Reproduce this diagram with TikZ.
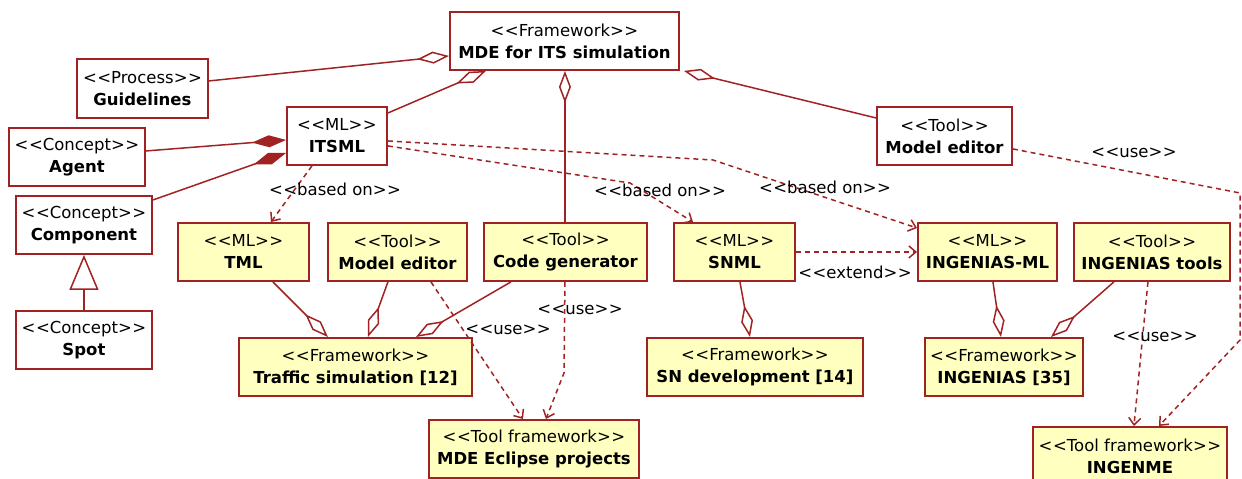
\documentclass[tikz,border=0pt]{standalone}
\usepackage{fontspec}
\setmainfont{DejaVu Sans}
\usetikzlibrary{arrows.meta}
\definecolor{umlred}{RGB}{160,34,34}
\definecolor{umlyellow}{RGB}{255,255,192}
\newcommand\stl{<\kern0.5pt<}
\newcommand\stg{>\kern0.5pt>}
\newcommand\ster[2]{\stl#1\stg\\\textbf{#2}}
\begin{document}
\begin{tikzpicture}[x=1pt,y=-1pt,
  box/.style={draw=umlred, line width=1.9pt, fill=white, inner sep=0pt, align=center,
    font=\fontsize{16.5}{22}\selectfont, minimum height=58pt, anchor=north west},
  ybox/.style={box, fill=umlyellow},
  lbl/.style={font=\fontsize{16.5}{20}\selectfont, inner sep=1pt},
  assoc/.style={draw=umlred, line width=1.5pt},
  dep/.style={draw=umlred, line width=1.5pt, dash pattern=on 5pt off 4pt,
    -{Straight Barb[length=7pt,width=12pt]}},
  agg/.style={assoc, -{Diamond[open,length=32pt,width=12pt]}},
  compo/.style={assoc, -{Diamond[length=34pt,width=12pt,fill=umlred]}},
  gen/.style={assoc, -{Triangle[open,length=35pt,width=29pt]}},
]
\useasboundingbox (0,0) rectangle (1242,479);

% nodes
\node[box, minimum width=229pt] (mde) at (449,11) {\ster{Framework}{MDE for ITS simulation}};
\node[box, minimum width=131pt, minimum height=59pt] (guid) at (76,58) {\ster{Process}{Guidelines}};
\node[box, minimum width=100pt] (itsml) at (286,106) {\ster{ML}{ITSML}};
\node[box, minimum width=136pt] (agent) at (8,127) {\ster{Concept}{Agent}};
\node[box, minimum width=136pt] (comp) at (15,195) {\ster{Concept}{Component}};
\node[box, minimum width=136pt] (spot) at (15,310) {\ster{Concept}{Spot}};
\node[box, minimum width=135pt] (med1) at (876,106) {\ster{Tool}{Model editor}};

\node[ybox, minimum width=131pt] (tml) at (177,222) {\ster{ML}{TML}};
\node[ybox, minimum width=139pt] (med2) at (327,222) {\ster{Tool}{Model editor}};
\node[ybox, minimum width=163pt] (cgen) at (483,222) {\ster{Tool}{Code generator}};
\node[ybox, minimum width=121pt] (snml) at (673,222) {\ster{ML}{SNML}};
\node[ybox, minimum width=139pt] (iml) at (917,222) {\ster{ML}{INGENIAS-ML}};
\node[ybox, minimum width=156pt] (itools) at (1073,222) {\ster{Tool}{INGENIAS tools}};

\node[ybox, minimum width=233pt] (traffic) at (238,337) {\ster{Framework}{Traffic simulation [12]}};
\node[ybox, minimum width=216pt] (sndev) at (646,337) {\ster{Framework}{SN development [14]}};
\node[ybox, minimum width=158pt] (ing) at (924,337) {\ster{Framework}{INGENIAS [35]}};
\node[ybox, minimum width=210pt] (eclipse) at (428,419) {\ster{Tool framework}{MDE Eclipse projects}};
\node[ybox, minimum width=194pt] (ingenme) at (1032,426) {\ster{Tool framework}{INGENME}};

% aggregations to MDE
\draw[agg] ([yshift=7.5pt]guid.east) -- ([yshift=-15pt]mde.west);
\draw[agg] ([yshift=-7pt]itsml.north east) -- ([xshift=-78.5pt]mde.south);
\draw[agg] ([xshift=-0.5pt]cgen.north) -- ([xshift=-0.5pt]cgen.north |- mde.south);
\draw[agg] ([yshift=18pt]med1.west) -- ([xshift=4pt]mde.south east);

% compositions to ITSML
\draw[compo] ([yshift=6pt]agent.east) -- ([yshift=-4pt]itsml.west);
\draw[compo] ([yshift=-5pt]comp.north east) -- ([yshift=-17pt]itsml.west);

% generalization
\draw[gen] (spot.north) -- (comp.south);

% aggregations to frameworks
\draw[agg] ([xshift=29.5pt]tml.south) -- ([xshift=-27.5pt]traffic.north);
\draw[agg] ([xshift=-9.5pt]med2.south) -- ([xshift=12.5pt]traffic.north);
\draw[agg] ([xshift=-54.5pt]cgen.south) -- ([xshift=60.5pt]traffic.north);
\draw[agg] ([xshift=5.5pt]snml.south) -- ([xshift=-5pt]sndev.north);
\draw[agg] ([xshift=5.5pt]iml.south) -- ([xshift=-3pt]ing.north);
\draw[agg] ([xshift=-38pt]itools.south) -- ([xshift=47pt]ing.north);

% dependencies
\draw[dep] ([xshift=-25pt]itsml.south) -- ([xshift=27.5pt]tml.north);
\draw[dep] ([yshift=-10pt]itsml.east) -- (630,183) -- ([xshift=20pt]snml.north west);
\draw[dep] ([yshift=-5pt]itsml.east) -- (713,160) -- ([yshift=-6pt]iml.north west);
\draw[dep] (snml.east) -- (iml.west);
\draw[dep] ([xshift=33.5pt]med2.south) -- ([xshift=-11pt]eclipse.north);
\draw[dep] ([xshift=-0.5pt]cgen.south) -- (564,373) -- ([xshift=12pt]eclipse.north);
\draw[dep] ([xshift=-4pt]itools.south) -- ([xshift=4pt]ingenme.north);
\draw[dep] ([yshift=-13pt]med1.east) -- (1240,193) -- (1240,340) -- ([xshift=29pt]ingenme.north);

% labels
\node[lbl] (l1) at (335,189) {\stl based on\stg};
\node[lbl] (l2) at (660,190) {\stl based on\stg};
\node[lbl] (l3) at (825,187) {\stl based on\stg};
\node[lbl] (l4) at (855,272) {\stl extend\stg};
\node[lbl] (l5) at (1134,153) {\stl use\stg};
\node[lbl] (l6) at (580,310) {\stl use\stg};
\node[lbl] (l7) at (508,330) {\stl use\stg};
\node[lbl] (l8) at (1155,337) {\stl use\stg};
\end{tikzpicture}
\end{document}
